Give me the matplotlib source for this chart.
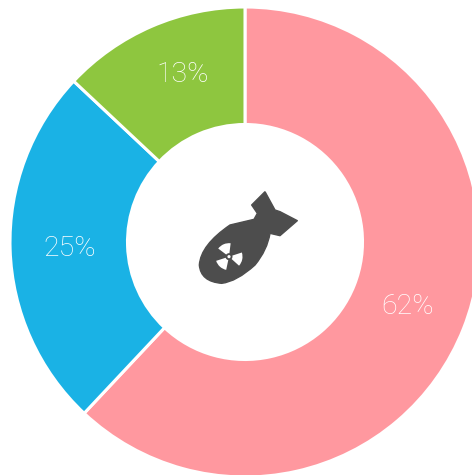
import matplotlib
matplotlib.use("Agg")
import matplotlib.pyplot as plt
from matplotlib.patches import Circle, PathPatch, Wedge
from matplotlib.path import Path

labels = ["62%", "25%", "13%"]
values = [62, 25, 13]
colors = ["#FF989F", "#1AB2E5", "#8EC63F"]
label_pos = [(407.5, 307), (70, 248), (182.5, 75)]

W, H = 472, 475
CX, CY, R, R_IN = 245, 242, 235, 117.5


def py(y):
    # picture pixels count from the top
    return H - y


def crop(x, y):
    return (180 + x / 3, py(170 + y / 3))


fig = plt.figure(figsize=(W / 100, H / 100), dpi=100)
ax = fig.add_axes([0, 0, 1, 1])

ax.pie(values, colors=colors, startangle=90, counterclock=False,
       center=(CX, py(CY)), radius=R, frame=True,
       wedgeprops=dict(width=R - R_IN, edgecolor="white", linewidth=2.2))
ax.set_xlim(0, W)
ax.set_ylim(0, H)
ax.set_aspect("equal")
ax.axis("off")

for lab, (x, y) in zip(labels, label_pos):
    ax.text(x, py(y), lab, color="white", fontsize=20.5, family="Roboto",
            fontweight="light", ha="center", va="center")

# bomb icon: fins as straight lines, body as curves
L, C = Path.LINETO, Path.CURVE3
bomb = [
    ((255, 65), Path.MOVETO), ((215, 105), L), ((232, 130), L), ((222, 148), L),
    ((150, 165), L), ((62, 225), C), ((58, 285), C), ((62, 335), C), ((125, 340), C),
    ((170, 335), C), ((225, 285), C), ((262, 240), C), ((270, 190), C),
    ((300, 197), L), ((352, 152), L), ((300, 125), L), ((285, 120), L), ((255, 65), L),
]
path = Path([crop(*p) for p, _ in bomb], [c for _, c in bomb])
ax.add_patch(PathPatch(path, facecolor="#4D4D4D", edgecolor="#4D4D4D",
                       linewidth=1.0, joinstyle="round"))

hub = crop(147, 260)
for ang in (113, 228, 348):
    ax.add_patch(Wedge(hub, 13.5, ang - 30, ang + 30, width=10, facecolor="white",
                       edgecolor="none"))
ax.add_patch(Circle(hub, 1.6, facecolor="white", edgecolor="none"))

fig.savefig("out.png", dpi=100)
